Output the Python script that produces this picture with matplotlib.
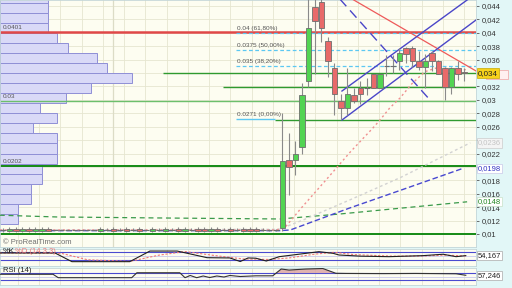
import matplotlib
matplotlib.use('agg')
import matplotlib.pyplot as plt
import matplotlib.transforms as mtransforms
from matplotlib.patches import Rectangle
import numpy as np

plt.rcParams['font.family'] = ['Liberation Sans', 'DejaVu Sans']

# ---- candles (index 0 = first candle on the left) ----
opens = [0.0106, 0.0104, 0.0108, 0.0104, 0.0108, 0.0104, 0.0104, 0.0108,
         0.0106, 0.0106, 0.0106, 0.0106, 0.0106, 0.0106, 0.0106,
         0.0104, 0.0106, 0.0108, 0.0106, 0.0108, 0.0106, 0.0108, 0.0106, 0.0104, 0.0106,
         0.0104, 0.0106, 0.0108, 0.0104, 0.0106, 0.0108, 0.0108, 0.0104, 0.0108, 0.0106,
         0.0108, 0.0106, 0.0108, 0.0108, 0.0108, 0.0106, 0.0106, 0.0106,
         0.0109, 0.0210, 0.0210, 0.0230, 0.0328, 0.0439, 0.0446, 0.0388, 0.0348, 0.0298,
         0.0288, 0.0307, 0.0318, 0.0318, 0.0339, 0.0318, 0.0350, 0.0350, 0.0358, 0.0377,
         0.0377, 0.0358, 0.0349, 0.0370, 0.0358, 0.0348, 0.0319, 0.0348, 0.0341]
closes = [0.0106, 0.0108, 0.0104, 0.0108, 0.0104, 0.0108, 0.0108, 0.0105,
          0.0106, 0.0106, 0.0106, 0.0106, 0.0106, 0.0106, 0.0106,
          0.0108, 0.0106, 0.0104, 0.0106, 0.0104, 0.0106, 0.0104, 0.0106, 0.0108, 0.0106,
          0.0108, 0.0106, 0.0104, 0.0108, 0.0106, 0.0104, 0.0104, 0.0108, 0.0104, 0.0106,
          0.0104, 0.0106, 0.0104, 0.0104, 0.0104, 0.0106, 0.0106, 0.0106,
          0.0209, 0.0200, 0.0219, 0.0307, 0.0407, 0.0418, 0.0407, 0.0358, 0.0309, 0.0288,
          0.0309, 0.0298, 0.0309, 0.0318, 0.0318, 0.0339, 0.0350, 0.0350, 0.0370, 0.0368,
          0.0358, 0.0349, 0.0358, 0.0358, 0.0339, 0.0319, 0.0348, 0.0339, 0.0340]
highs = [0.0109, 0.0110, 0.0110, 0.0110, 0.0110, 0.0110, 0.0110, 0.0110,
         0.0106, 0.0106, 0.0106, 0.0106, 0.0106, 0.0106, 0.0106,
         0.0110, 0.0109, 0.0110, 0.0109, 0.0110, 0.0109, 0.0110, 0.0106, 0.0110, 0.0109,
         0.0110, 0.0109, 0.0110, 0.0110, 0.0109, 0.0110, 0.0110, 0.0110, 0.0110, 0.0109,
         0.0110, 0.0109, 0.0110, 0.0110, 0.0110, 0.0109, 0.0108, 0.0107,
         0.0280, 0.0251, 0.0239, 0.0325, 0.0460, 0.0460, 0.0455, 0.0394, 0.0355, 0.0309,
         0.0348, 0.0318, 0.0328, 0.0333, 0.0339, 0.0339, 0.0367, 0.0367, 0.0377, 0.0379,
         0.0380, 0.0373, 0.0368, 0.0373, 0.0360, 0.0349, 0.0349, 0.0358, 0.0348]
lows = [0.0103, 0.0103, 0.0103, 0.0103, 0.0103, 0.0103, 0.0103, 0.0104,
        0.0106, 0.0106, 0.0106, 0.0106, 0.0106, 0.0106, 0.0106,
        0.0103, 0.0104, 0.0103, 0.0104, 0.0103, 0.0104, 0.0103, 0.0106, 0.0103, 0.0104,
        0.0103, 0.0104, 0.0103, 0.0103, 0.0104, 0.0103, 0.0103, 0.0103, 0.0103, 0.0104,
        0.0103, 0.0104, 0.0103, 0.0103, 0.0103, 0.0104, 0.0105, 0.0105,
        0.0105, 0.0158, 0.0188, 0.0219, 0.0319, 0.0339, 0.0386, 0.0334, 0.0277, 0.0271,
        0.0277, 0.0295, 0.0294, 0.0308, 0.0318, 0.0318, 0.0336, 0.0340, 0.0345, 0.0355,
        0.0349, 0.0345, 0.0318, 0.0343, 0.0339, 0.0300, 0.0309, 0.0330, 0.0328]

# ---- volume profile (bins of 0.0015 starting at 0.0115) ----
vp_start = 0.0115
vp_step = 0.0015
vp_volume = [18, 18, 31, 31, 42, 42, 57, 57, 57, 33, 57, 40, 66, 91, 132, 107,
             97, 68, 57, 48, 48, 48, 48]

# ---- moving averages (candle index, price) ----
ma_pink_x = [-0.5, 42, 43.4, 46, 50, 53.4, 56.9, 58, 59.5, 61.1, 62.9, 64.9, 66.8, 71.2]
ma_pink = [0.0106, 0.0106, 0.0110, 0.0140, 0.0184, 0.0222, 0.0258, 0.0270, 0.0288,
           0.0303, 0.0324, 0.0342, 0.0348, 0.0345]
ma_gray_x = [-0.5, 42.5, 46.2, 53.4, 61.1, 71.9]
ma_gray = [0.0106, 0.0107, 0.0121, 0.0151, 0.0184, 0.0236]
ma_blue_x = [-0.5, 42.6, 44.2, 53.4, 61.1, 70.8]
ma_blue = [0.0105, 0.0105, 0.0106, 0.0139, 0.0165, 0.0198]
ma_green_x = [-0.5, 8.3, 24.2, 42.6, 51.8, 71.4]
ma_green = [0.0128, 0.01254, 0.01239, 0.01224, 0.01298, 0.0148]

# ---- stochastic and RSI ----
stoch_k_x = [-0.5, 8, 10.6, 19.5, 22.6, 26.8, 31.4, 34.9, 36.5, 37.7, 38.9, 40.5, 42.5,
             46.6, 48.6, 50.8, 51.7, 55, 59.4, 64.6, 67.7, 69.7, 71.2]
stoch_k = [75, 75, 7, 7, 90, 90, 38, 36, 8, 36, 34, 12, 46, 72, 85, 72, 59, 50, 46, 54,
           65, 46, 54.167]
stoch_d_x = [-0.5, 9, 13, 19.5, 24, 28, 33, 37, 41, 44, 48, 51, 54, 60, 65, 68, 71.2]
stoch_d = [75, 72, 22, 9, 58, 86, 52, 28, 24, 36, 66, 80, 62, 50, 52, 58, 52]
rsi_x = [-0.5, 7.7, 8.5, 19.8, 20.6, 27.2, 28, 28.8, 29.8, 30.8, 31.8, 32.9, 34, 34.9,
         36.5, 38.9, 41.5, 42.8, 44, 46.6, 49.2, 51.2, 52.8, 58.5, 63.5, 69.7, 71.2]
rsi = [63, 63, 43, 43, 72, 72, 43, 56, 43, 53, 44, 53, 47, 56, 50, 54, 54, 94, 88, 94,
       97, 69, 68, 67, 68, 66, 57.246]

W, H = 512, 288
BG = '#fdfdf1'
GRID = '#e6e6d0'


def px_axes(fig, x0, y0, x1, y1):
    return fig.add_axes([x0 / W, 1 - y1 / H, (x1 - x0) / W, (y1 - y0) / H])


def px_to_idx(px):
    return (px - 3) / 6.5


def fmt_price(v):
    return f'{v:.3f}'.rstrip('0').replace('.', ',')


fig = plt.figure(figsize=(W / 100, H / 100), dpi=100, facecolor='#e2f7f7')

ax = px_axes(fig, 0, 0, 476, 247)
ax_st = px_axes(fig, 0, 249, 476, 266)
ax_rsi = px_axes(fig, 0, 268, 476, 285)

xlim = (px_to_idx(0), px_to_idx(476))
grid_x = px_to_idx(np.arange(17.9, 476, 21.25))
for a in (ax, ax_st, ax_rsi):
    a.set_facecolor(BG)
    a.set_xlim(*xlim)
    a.set_xticks([])
    for s in a.spines.values():
        s.set_color('#c4d6d8')
        s.set_linewidth(0.6)
    for gx in grid_x:
        a.axvline(gx, color=GRID, lw=0.6, zorder=0)

# ---- main price panel ----
ax.set_ylim(0.008061, 0.044894)
yt = np.arange(0.010, 0.0441, 0.002)
ax.yaxis.tick_right()
ax.set_yticks(yt)
# labels hidden behind the value boxes in the reference are left blank
hidden = {'0,034', '0,024', '0,02'}
ax.set_yticklabels([fmt_price(v) if fmt_price(v) not in hidden else '' for v in yt])
ax.tick_params(axis='y', labelsize=5.5, labelcolor='#333333', color='#555555',
               length=2, width=0.6, pad=2)
for v in yt:
    ax.axhline(v, color=GRID, lw=0.6, zorder=0)
ax.axvline(px_to_idx(113), color='#dcdcc6', lw=0.9, zorder=0)

# volume profile
vp_bottoms = vp_start + vp_step * np.arange(len(vp_volume))
ax.barh(vp_bottoms, np.array(vp_volume) / 6.5, height=vp_step, left=xlim[0],
        align='edge', color='#d9d9f7', edgecolor='#8f8fd6', lw=0.7, zorder=1)

# horizontal levels
ax.axhline(0.0401, color='#e04848', lw=1.8, zorder=2)
ax.axhline(0.0298, color='#6cbf6c', lw=1.0, zorder=2)
ax.axhline(0.0202, color='#148a14', lw=1.4, zorder=2)
ax.axhline(0.0100, color='#148a14', lw=1.4, zorder=2)
ax.hlines(0.0340, px_to_idx(163), xlim[1], color='#2f9a2f', lw=1.0, zorder=2)
ax.hlines(0.0319, px_to_idx(223), xlim[1], color='#2f9a2f', lw=1.0, zorder=2)
ax.hlines(0.0270, px_to_idx(275), xlim[1], color='#2f9a2f', lw=1.0, zorder=2)

# fibonacci levels
fib_levels = [0.04, 0.0375, 0.035]
fib_labels = ['0.04 (61,80%)', '0.0375 (50,00%)', '0.035 (38,20%)']
for lv, lab in zip(fib_levels, fib_labels):
    ax.hlines(lv, px_to_idx(236), xlim[1], color='#5cc8f2', lw=0.9,
              linestyles=(0, (3, 2)), zorder=2)
    ax.text(px_to_idx(237), lv + 0.0003, lab, fontsize=4.6, color='#555555',
            va='bottom', zorder=6)
ax.hlines(0.0271, px_to_idx(236), px_to_idx(275), color='#5cc8f2', lw=1.0, zorder=2)
ax.text(px_to_idx(237), 0.0271 + 0.0003, '0.0271 (0,00%)', fontsize=4.6,
        color='#555555', va='bottom', zorder=6)

for lv, lab in [(0.0401, '0.0401'), (0.0298, '0.03'), (0.0202, '0.0202')]:
    ax.text(px_to_idx(3), lv + 0.0003, lab, fontsize=4.6, color='#555555',
            va='bottom', zorder=6)

# trend lines
ax.plot([52, 72.77], [0.0460, 0.03431], color='#ee5a5a', lw=0.9, zorder=4)
ax.plot([52.15, 72.77], [0.03132, 0.04586], color='#4a46c8', lw=1.0, zorder=4)
ax.plot([52.15, 72.77], [0.0270, 0.04191], color='#4a46c8', lw=1.0, zorder=4)
ax.plot([51.4, 65.4], [0.0455, 0.0303], color='#4a46c8', lw=1.0,
        linestyle=(0, (7, 4)), zorder=4)

# moving averages
ax.plot(ma_green_x, ma_green, color='#3a9a4a', lw=0.9, linestyle=(0, (4, 3)), zorder=4)
ax.plot(ma_gray_x, ma_gray, color='#d2d2d2', lw=1.0, linestyle=(0, (2, 2)), zorder=4)
ax.plot(ma_blue_x, ma_blue, color='#4848d0', lw=1.0, linestyle=(0, (4, 2)), zorder=4)
ax.plot(ma_pink_x, ma_pink, color='#f09090', lw=1.0, linestyle=(0, (1.5, 2)), zorder=4)

# candles
idx = np.arange(len(opens))
o = np.array(opens)
c = np.array(closes)
ax.vlines(idx, lows, highs, color='#8a8a8a', lw=0.8, zorder=5)
up = c > o
dn = c < o
flat = c == o
ax.bar(idx[up], (c - o)[up], bottom=o[up], width=0.78, color='#52d452',
       edgecolor='#6e6e6e', lw=0.6, zorder=6)
ax.bar(idx[dn], (o - c)[dn], bottom=c[dn], width=0.78, color='#e86a6a',
       edgecolor='#6e6e6e', lw=0.6, zorder=6)
ax.hlines(c[flat], idx[flat] - 0.39, idx[flat] + 0.39, color='#6e6e6e', lw=0.8, zorder=6)

# price boxes on the right scale
tr = mtransforms.blended_transform_factory(ax.transAxes, ax.transData)
ax.add_patch(Rectangle((1.02, 0.0331), 0.048, 0.0013, transform=tr, fc='#fff0f0',
                       ec='#f0a0a0', lw=0.5, clip_on=False, zorder=7))
ax.text(1.004, 0.0340, '0,034', transform=tr, fontsize=5.8, color='#222222',
        va='center', ha='left', zorder=8, clip_on=False,
        bbox=dict(boxstyle='square,pad=0.15', fc='#f6d21a', ec='#c8a800', lw=0.5))
box_specs = [(0.02357, '0,0236', '#c4c4c4', '#f4f4f4', '#cccccc'),
             (0.0198, '0,0198', '#3434c4', '#ffffff', '#c8c8e8'),
             (0.0148, '0,0148', '#268a26', '#ffffff', '#c8e0c8')]
for lv, lab, tc, fc, ec in box_specs:
    ax.text(1.004, lv, lab, transform=tr, fontsize=5.5, color=tc, va='center',
            ha='left', zorder=8, clip_on=False,
            bbox=dict(boxstyle='square,pad=0.15', fc=fc, ec=ec, lw=0.5))

ax.text(px_to_idx(3), 0.0087, '\u00a9 ProRealTime.com', fontsize=5.5,
        color='#707070', va='center', zorder=7)

# ---- stochastic panel ----
ax_st.set_ylim(-27, 106)
ax_st.set_yticks([])
for lv in (80, 20):
    ax_st.axhline(lv, color='#4a4ad0', lw=0.8, zorder=1)
ax_st.axhline(50, color='#c8c8ee', lw=0.6, zorder=1)
ax_st.plot(stoch_d_x, stoch_d, color='#f07878', lw=0.8, linestyle=(0, (2, 1.5)), zorder=3)
ax_st.plot(stoch_k_x, stoch_k, color='#202020', lw=0.8, zorder=4)
ax_st.text(px_to_idx(3), 83, '%K', fontsize=5.5, color='#222222', va='center', zorder=5)
ax_st.text(px_to_idx(15), 83, '%D (14 3 3)', fontsize=5.5, color='#f07878',
           va='center', zorder=5)
ax_st.text(1.004, stoch_k[-1], '54,167', transform=mtransforms.blended_transform_factory(
    ax_st.transAxes, ax_st.transData), fontsize=5.5, color='#222222', va='center',
    clip_on=False, bbox=dict(boxstyle='square,pad=0.15', fc='#ffffff', ec='#aaaaaa', lw=0.5))

# ---- RSI panel ----
ax_rsi.set_ylim(0, 100)
ax_rsi.set_yticks([])
for lv in (70, 30):
    ax_rsi.axhline(lv, color='#4a4ad0', lw=0.8, zorder=1)
ax_rsi.axhline(50, color='#c8c8ee', lw=0.6, zorder=1)
rx = np.array(rsi_x)
rv = np.array(rsi)
ax_rsi.fill_between(rx, rv, 70, where=rv > 70, interpolate=True, color='#d9a0a0',
                    alpha=0.8, lw=0, zorder=2)
ax_rsi.plot(rx, rv, color='#333333', lw=0.8, zorder=4)
ax_rsi.text(px_to_idx(3), 88, 'RSI (14)', fontsize=5.5, color='#222222', va='center', zorder=5)
ax_rsi.text(1.004, rsi[-1], '57,246', transform=mtransforms.blended_transform_factory(
    ax_rsi.transAxes, ax_rsi.transData), fontsize=5.5, color='#222222', va='center',
    clip_on=False, bbox=dict(boxstyle='square,pad=0.15', fc='#ffffff', ec='#aaaaaa', lw=0.5))

fig.savefig('out.png', dpi=100, facecolor=fig.get_facecolor())
